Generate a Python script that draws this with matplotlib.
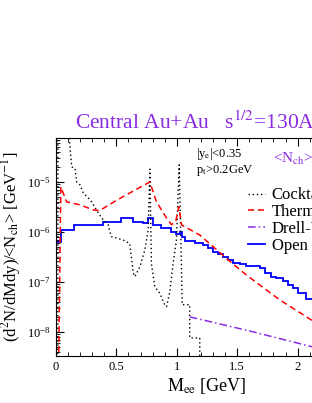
import matplotlib
matplotlib.use("Agg")
import matplotlib.pyplot as plt
from matplotlib.ticker import MultipleLocator, LogLocator, NullFormatter

plt.rcParams["font.family"] = "serif"
plt.rcParams["font.serif"] = ["Liberation Serif", "DejaVu Serif"]
plt.rcParams["mathtext.fontset"] = "stix"

# Open charm histogram (bin edges, values)
charm_edges = [0.0, 0.04, 0.149, 0.39, 0.54, 0.64, 0.722, 0.763, 0.804, 0.873,
               0.956, 0.997, 1.025, 1.047, 1.066, 1.149, 1.217, 1.259, 1.30,
               1.341, 1.383, 1.424, 1.466, 1.521, 1.576, 1.686, 1.727, 1.783,
               1.824, 1.879, 1.92, 1.961, 2.003, 2.072, 2.15, 2.2]
charm_vals = [6.3e-7, 1.1e-6, 1.4e-6, 1.6e-6, 1.9e-6, 1.6e-6, 1.5e-6, 1.9e-6,
              1.4e-6, 1.2e-6, 1.0e-6, 9.1e-7, 1.0e-6, 7.9e-7, 6.7e-7, 6.1e-7,
              5.5e-7, 4.8e-7, 4.0e-7, 3.6e-7, 3.2e-7, 2.75e-7, 2.4e-7, 2.3e-7,
              2.1e-7, 1.9e-7, 1.5e-7, 1.28e-7, 1.2e-7, 1.06e-7, 8.7e-8, 7.6e-8,
              6.1e-8, 4.5e-8, 4.0e-8]

# thermal
therm_m = [0.02, 0.04, 0.088, 0.198, 0.31, 0.364, 0.5, 0.64, 0.777, 0.832,
           0.915, 0.956, 0.99, 1.017, 1.04, 1.19, 1.3, 1.438, 1.576, 1.851,
           2.113, 2.2]
therm_y = [1e-9, 8e-6, 4e-6, 3.5e-6, 2.75e-6, 2.7e-6, 4.3e-6, 6.6e-6, 1.0e-5,
           4e-6, 1.9e-6, 1.4e-6, 1.6e-6, 3.2e-6, 1.38e-6, 8.7e-7, 5.1e-7,
           2.6e-7, 1.38e-7, 4.4e-8, 1.74e-8, 1.3e-8]

# cocktail
cock_m = [0.015, 0.016, 0.095, 0.13, 0.157, 0.171, 0.2, 0.226, 0.267, 0.295,
          0.35, 0.391, 0.432, 0.446, 0.46, 0.5, 0.556, 0.61, 0.64, 0.653,
          0.694, 0.736, 0.763, 0.777, 0.79, 0.818, 0.86, 0.9, 0.915, 0.942,
          0.97, 0.997, 1.02, 1.045, 1.107, 1.107, 1.19, 1.19]
cock_y = [1e-10, 1e-3, 2e-4, 2e-5, 1.9e-5, 1e-5, 8.7e-6, 6e-6, 4.8e-6, 4e-6,
          2.4e-6, 1.74e-6, 1.4e-6, 1e-6, 8e-7, 7.6e-7, 6.9e-7, 5.9e-7, 1.5e-7,
          1.28e-7, 2e-7, 4.4e-7, 1.1e-6, 1.8e-5, 2.3e-7, 8e-8, 5.9e-8, 3.5e-8,
          3.2e-8, 6.4e-8, 2.4e-7, 6.9e-7, 2.2e-5, 3.5e-8, 3.5e-8, 7.6e-9,
          7.6e-9, 1e-10]

# Drell-Yan
dy_m = [1.107, 1.6, 2.113, 2.2]
dy_y = [2e-8, 1.05e-8, 5.1e-9, 4.6e-9]

purple = "#8a2be2"

fig = plt.figure(figsize=(3.12, 4.03), dpi=100)
ax = fig.add_axes([56 / 312, 1 - 356 / 403, 302 / 312, 218 / 403])

ax.plot(cock_m, cock_y, color="black", lw=1.0, dashes=(1, 2), label="Cocktail")
ax.plot(therm_m, therm_y, color="red", lw=1.1, dashes=(4, 2.5), label="Thermal")
ax.plot(dy_m, dy_y, color=purple, lw=1.1, dashes=(5, 2, 1, 2), label="Drell-Yan")
ax.stairs(charm_vals, charm_edges, baseline=1e-12, color="blue", lw=1.3,
          label="Open Charm")

ax.set_yscale("log")
ax.set_xlim(0, 2.5)
ax.set_ylim(3.3e-9, 7.6e-5)

ax.xaxis.set_major_locator(MultipleLocator(0.5))
ax.xaxis.set_minor_locator(MultipleLocator(0.1))
ax.xaxis.set_major_formatter(plt.FuncFormatter(lambda v, p: f"{v:g}"))
ax.yaxis.set_major_locator(LogLocator(base=10, numticks=10))
ax.yaxis.set_minor_locator(LogLocator(base=10, subs=range(2, 10), numticks=20))
ax.yaxis.set_minor_formatter(NullFormatter())
ax.tick_params(which="both", direction="in", top=True, right=True, labelsize=9)
ax.tick_params(which="major", length=6)
ax.tick_params(which="minor", length=3)

ax.set_xlabel(r"M$_{\rm ee}$ [GeV]", fontsize=13, labelpad=2)
ax.set_ylabel(r"(d$^2$N/dMdy)/<N$_{\rm ch}$> [GeV$^{-1}$]", fontsize=12, labelpad=3)

fig.text(75 / 312, 1 - 129 / 403, r"Central Au+Au   s$^{1/2}$=130AGeV",
         color=purple, fontsize=15.5, va="baseline")

fig.text(196 / 312, 1 - 157 / 403, r"|y$_{\rm e}$|<0.35", fontsize=9, va="baseline")
fig.text(196 / 312, 1 - 173 / 403, r"p$_{\rm t}$>0.2GeV", fontsize=9, va="baseline")
fig.text(273 / 312, 1 - 163 / 403, r"<N$_{\rm ch}$>", color=purple, fontsize=11,
         va="baseline")

ax.legend(loc="upper left", bbox_to_anchor=(0.636, 0.773), frameon=False,
          fontsize=12, handlelength=1.0, handletextpad=0.42, borderpad=0,
          borderaxespad=0, labelspacing=0.05)

fig.savefig("out.png", dpi=100)
